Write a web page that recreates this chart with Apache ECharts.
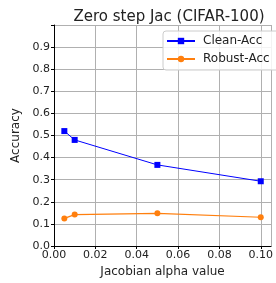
<!DOCTYPE html>
<html>
<head>
<meta charset="utf-8">
<script src="https://cdn.jsdelivr.net/npm/echarts@6/dist/echarts.min.js"></script>
<style>
html, body { margin: 0; padding: 0; background: #fff; }
#chart { width: 276px; height: 283px; }
</style>
</head>
<body>
<div id="chart"></div>
<script>
// alpha values and accuracies
var alphas = [0.005, 0.01, 0.05, 0.1];
var cleanAcc = [0.52, 0.48, 0.367, 0.293];
var robustAcc = [0.125, 0.142, 0.148, 0.13];

function pairs(xs, ys) {
    return xs.map(function (x, i) { return [x, ys[i]]; });
}

var font = 'DejaVu Sans';
var myChart = echarts.init(document.getElementById('chart'));
myChart.setOption({
    animation: false,
    title: {
        text: 'Zero step Jac (CIFAR-100)',
        left: 164,
        top: 5,
        textAlign: 'center',
        textStyle: { fontFamily: font, fontSize: 15, fontWeight: 'normal', color: '#222' }
    },
    legend: {
        orient: 'vertical',
        left: 163,
        top: 31,
        itemWidth: 28,
        itemHeight: 8,
        itemGap: 4,
        padding: [3, 30, 4, 3],
        borderColor: '#ccc',
        borderWidth: 1,
        borderRadius: 3,
        backgroundColor: 'rgba(255,255,255,0.85)',
        textStyle: { fontFamily: font, fontSize: 12, lineHeight: 14, color: '#222', padding: [0, 0, 0, 3] },
        data: ['Clean-Acc', 'Robust-Acc']
    },
    grid: { left: 54, right: 2, top: 25, bottom: 35 },
    xAxis: {
        type: 'value',
        min: 0,
        max: 0.105,
        interval: 0.02,
        name: 'Jacobian alpha value',
        nameLocation: 'middle',
        nameGap: 20,
        nameTextStyle: { fontFamily: font, fontSize: 12, color: '#222' },
        axisLine: { lineStyle: { color: '#000', width: 1 } },
        axisTick: { show: true, length: 3, lineStyle: { color: '#000' } },
        axisLabel: {
            fontFamily: font, fontSize: 11, color: '#222', margin: 4,
            showMaxLabel: false,
            formatter: function (v) { return v.toFixed(2); }
        },
        splitLine: { show: true, lineStyle: { color: '#b0b0b0', width: 1 } }
    },
    yAxis: {
        type: 'value',
        min: 0,
        max: 1.0,
        interval: 0.1,
        name: 'Accuracy',
        nameLocation: 'middle',
        nameGap: 30,
        nameTextStyle: { fontFamily: font, fontSize: 12, color: '#222' },
        axisLine: { show: true, lineStyle: { color: '#000', width: 1 } },
        axisTick: { show: true, length: 3, lineStyle: { color: '#000' } },
        axisLabel: {
            fontFamily: font, fontSize: 11, color: '#222', margin: 4,
            formatter: function (v) { return v >= 0.99 ? '' : v.toFixed(1); }
        },
        splitLine: { show: true, lineStyle: { color: '#b0b0b0', width: 1 } }
    },
    series: [
        {
            name: 'Clean-Acc',
            type: 'line',
            data: pairs(alphas, cleanAcc),
            symbol: 'rect',
            symbolSize: 6,
            itemStyle: { color: '#0000ff' },
            lineStyle: { color: '#0000ff', width: 1 }
        },
        {
            name: 'Robust-Acc',
            type: 'line',
            data: pairs(alphas, robustAcc),
            symbol: 'circle',
            symbolSize: 6,
            itemStyle: { color: '#ff7f0e' },
            lineStyle: { color: '#ff7f0e', width: 1.2 }
        }
    ]
});
</script>
</body>
</html>
